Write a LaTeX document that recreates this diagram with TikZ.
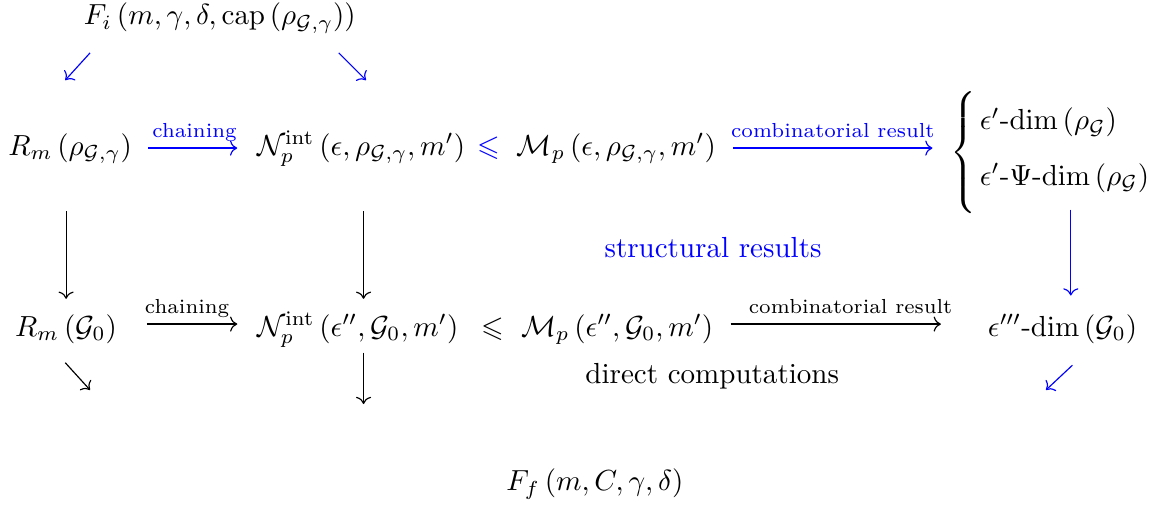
\documentclass[tikz,border=0pt]{standalone}
\usepackage{amsmath,amssymb}
\usetikzlibrary{arrows.meta}

\begin{document}
\begin{tikzpicture}[
    mth/.style={inner sep=0pt, outer sep=0pt, anchor=base, text height=7.5pt, text depth=2.5pt},
    lbl/.style={font=\scriptsize, inner sep=1.8pt, text depth=1.5pt},
    arr/.style={-{To}},
    barr/.style={arr, blue},
    vsh/.style={shorten <=0.59cm, shorten >=0.19cm}
  ]
    \useasboundingbox (0,0) rectangle (14.04,-6.14);

    \node[mth] (fi) at (2.66,-0.30) {$F_i\left(m,\gamma,\delta,\operatorname{cap}\left(\rho_{\mathcal{G},\gamma}\right)\right)$};

    % first row
    \node[mth] (rmA) at (0.85,-1.88) {$R_m\left(\rho_{\mathcal{G},\gamma}\right)$};
    \node[mth] (npA) at (4.37,-1.88) {$\mathcal{N}_p^{\mathrm{int}}\left(\epsilon,\rho_{\mathcal{G},\gamma},m'\right)$};
    \node[mth, text=blue] (leA) at (5.91,-1.88) {$\leqslant$};
    \node[mth] (mpA) at (7.46,-1.88) {$\mathcal{M}_p\left(\epsilon,\rho_{\mathcal{G},\gamma},m'\right)$};
    \node[inner sep=0pt] (brace) at (11.68,-1.85) {$\left\{\vcenter{\hbox{\rule{0pt}{44pt}}}\right.$};
    \node[mth, anchor=base west] (dimA) at (11.86,-1.57) {$\epsilon'$-$\dim\left(\rho_{\mathcal{G}}\right)$};
    \node[mth, anchor=base west] (psiA) at (11.86,-2.24) {$\epsilon'$-$\Psi$-$\dim\left(\rho_{\mathcal{G}}\right)$};

    \node[text=blue, anchor=base] (struct) at (8.63,-3.12) {structural results};

    % second row
    \node[mth] (rmB) at (0.80,-4.07) {$R_m\left(\mathcal{G}_0\right)$};
    \node[mth] (npB) at (4.33,-4.07) {$\mathcal{N}_p^{\mathrm{int}}\left(\epsilon'',\mathcal{G}_0,m'\right)$};
    \node[mth] (leB) at (5.96,-4.07) {$\leqslant$};
    \node[mth] (mpB) at (7.47,-4.07) {$\mathcal{M}_p\left(\epsilon'',\mathcal{G}_0,m'\right)$};
    \node[mth] (dimB) at (12.86,-4.07) {$\epsilon'''$-$\dim\left(\mathcal{G}_0\right)$};

    \node[anchor=base] (direct) at (8.62,-4.64) {direct computations};
    \node[mth] (ff) at (7.20,-5.94) {$F_f\left(m,C,\gamma,\delta\right)$};

    % free arrow ends
    \coordinate (tlA) at (1.09,-0.64);  \coordinate (tlB) at (0.79,-0.97);
    \coordinate (trA) at (4.10,-0.64);  \coordinate (trB) at (4.43,-0.97);
    \coordinate (blA) at (0.79,-4.39);  \coordinate (blB) at (1.09,-4.72);
    \coordinate (bmB) at (4.40,-4.89);
    \coordinate (brA) at (12.98,-4.42); \coordinate (brB) at (12.66,-4.72);

    \draw[barr] (tlA) -- (tlB);
    \draw[barr] (trA) -- (trB);

    \draw[barr, shorten <=0.2cm, shorten >=0.24cm] (rmA.east) -- (npA.west)
      node[lbl, midway, above] {chaining};
    \draw[barr, shorten <=0.21cm, shorten >=0.21cm] (mpA.east) -- (mpA.east -| brace.west)
      node[lbl, midway, above] {combinatorial result};

    \draw[arr, vsh] (rmB |- rmA.south) -- (rmB.north);
    \draw[arr, vsh] (bmB |- npA.south) -- (bmB |- npB.north);
    \draw[barr, shorten <=0.21cm, shorten >=0.23cm] ([xshift=0.1cm]dimB.north |- psiA.south) -- ([xshift=0.1cm]dimB.north);

    \draw[arr, shorten <=0.36cm, shorten >=0.24cm] ([yshift=0.06cm]rmB.east) -- ([yshift=0.06cm]npB.west)
      node[lbl, midway, above] {chaining};
    \draw[arr, shorten <=0.21cm, shorten >=0.57cm] ([yshift=0.06cm]mpB.east) -- ([yshift=0.06cm]dimB.west)
      node[lbl, midway, above] {combinatorial result};

    \draw[arr] (blA) -- (blB);
    \draw[arr, shorten <=0.11cm] (npB.south -| bmB) -- (bmB);
    \draw[barr] (brA) -- (brB);
  \end{tikzpicture}
\end{document}
